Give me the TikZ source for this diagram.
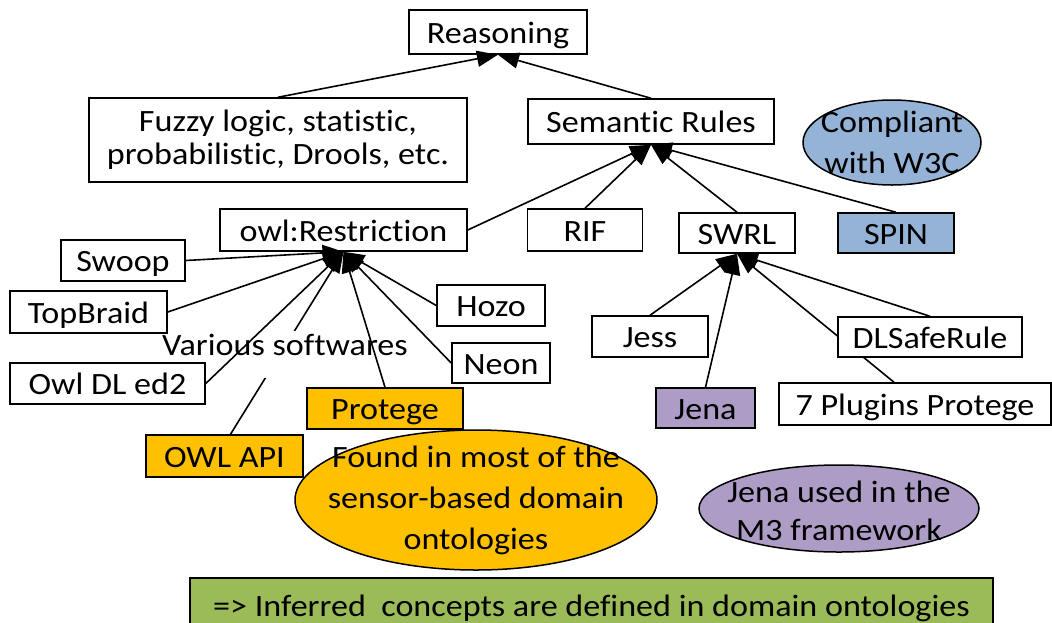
\documentclass[tikz,border=0pt]{standalone}
\usepackage{fontspec}
\setmainfont{Carlito}[FakeStretch=1.1, Ligatures=NoCommon]
\usetikzlibrary{arrows.meta,shapes.geometric,backgrounds}
\definecolor{orng}{HTML}{FFC000}
\definecolor{bluec}{HTML}{95B3D7}
\definecolor{purp}{RGB}{172,156,198}
\definecolor{grn}{HTML}{9BBB59}
\begin{document}
\begin{tikzpicture}[x=1pt,y=-1pt,
  every node/.style={font=\fontsize{31}{33}\selectfont, inner sep=0pt},
  box/.style={draw, line width=1.5pt, fill=white, rectangle},
  sbox/.style={box, text height=22pt, text depth=0pt},
  ell/.style={draw, line width=1.5pt, ellipse},
  arr/.style={line width=1.6pt, -{Triangle[length=21pt,width=16pt]}}]
\useasboundingbox (0,0) rectangle (1052,622);

% label drawn first so other boxes cover its white fill
\node[fill=white, anchor=base, text height=24pt, text depth=23pt] (various) at (285,355) {Various softwares};

\node[sbox, minimum width=178pt, minimum height=44pt] (reas) at (498,32) {Reasoning};
\node[box, minimum width=378pt, minimum height=84pt, align=center] (fuzzy) at (278,140) {Fuzzy logic, statistic,\\probabilistic, Drools, etc.};
\node[sbox, minimum width=246pt, minimum height=45pt] (sem) at (651,121.5) {Semantic Rules};
\node[ell, fill=bluec, minimum width=178pt, minimum height=85pt,
  label={[align=center, font=\fontsize{31}{41}\selectfont]center:Compliant\\with W3C}] (comp) at (892,142.5) {};

\node[sbox, minimum width=247pt, minimum height=42pt] (owlr) at (343.5,230) {owl:Restriction};
\node[sbox, minimum width=115pt, minimum height=42pt] (rif) at (585,230) {RIF};
\node[sbox, minimum width=116pt, minimum height=40pt] (swrl) at (737,233) {SWRL};
\node[sbox, fill=bluec, minimum width=116pt, minimum height=40pt] (spin) at (896,233) {SPIN};

\node[sbox, minimum width=124pt, minimum height=41pt] (swoop) at (123,260.5) {Swoop};
\node[sbox, minimum width=157pt, minimum height=42pt] (top) at (88.5,312) {TopBraid};
\node[sbox, minimum width=108pt, minimum height=41pt] (hozo) at (491,305.5) {Hozo};
\node[sbox, minimum width=98pt, minimum height=40pt] (neon) at (501,363) {Neon};
\node[sbox, minimum width=195pt, minimum height=41pt] (owldl) at (107.5,383.5) {Owl DL ed2};
\node[sbox, fill=orng, minimum width=156pt, minimum height=41pt] (prot) at (385,408.5) {Protege};
\node[sbox, fill=orng, minimum width=157pt, minimum height=42pt] (owlapi) at (224.5,456) {OWL API};

\node[sbox, minimum width=116pt, minimum height=41pt] (jess) at (650,336.5) {Jess};
\node[sbox, minimum width=184pt, minimum height=40pt] (dls) at (930,337) {DLSafeRule};
\node[sbox, fill=purp, minimum width=99pt, minimum height=40pt] (jena) at (705.5,408) {Jena};
\node[sbox, minimum width=272pt, minimum height=42pt] (plug) at (915,404) {7 Plugins Protege};

\node[ell, fill=orng, minimum width=362pt, minimum height=140pt,
  label={[align=center, font=\fontsize{31}{41}\selectfont]center:Found in most of the\\sensor-based domain\\ontologies}] (found) at (476,500) {};
\node[ell, fill=purp, minimum width=280pt, minimum height=87pt,
  label={[align=center, font=\fontsize{31}{38}\selectfont, yshift=-2pt]center:Jena used in the\\M3 framework}] (jused) at (839,508.5) {};

\node[sbox, fill=grn, minimum width=803pt, minimum height=54pt] (green) at (591.5,605) {=> Inferred\ \ concepts are defined in domain ontologies};

% connectors
\draw[arr] (fuzzy.north) -- (reas.south);
\draw[arr] (sem.north) -- (reas.south);
\draw[arr] (owlr.east) -- (sem.south);
\draw[arr] (rif.north) -- (sem.south);
\draw[arr] (swrl.north) -- (sem.south);
\draw[arr] (spin.north) -- (sem.south);

\draw[arr] (swoop.east) -- (owlr.south);
\draw[arr] (top.east) -- (owlr.south);
\draw[arr] (owldl.east) -- (owlr.south);
\draw[arr] (prot.north) -- (owlr.south);
\draw[arr] (hozo.west) -- (owlr.south);
\draw[arr] (neon.west) -- (owlr.south);

\draw[arr] (jess.north) -- (swrl.south);
\draw[arr] (jena.north) -- (swrl.south);
\draw[arr] (dls.north) -- (swrl.south);

\begin{scope}[on background layer]
\draw[arr] ([xshift=6pt]owlapi.north) -- (owlr.south);
\draw[arr] ([xshift=-21pt]plug.north) -- (swrl.south);
\end{scope}
\end{tikzpicture}
\end{document}
